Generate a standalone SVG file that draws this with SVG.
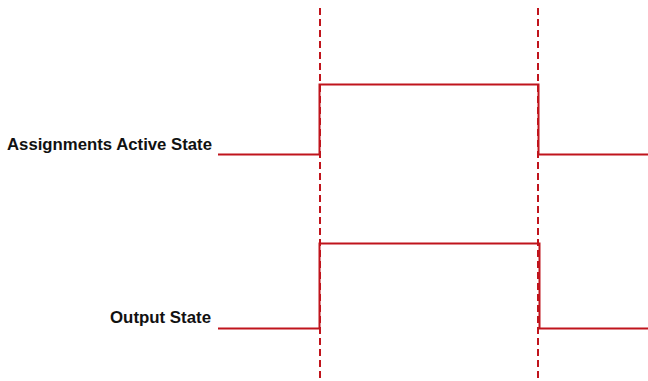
<svg xmlns="http://www.w3.org/2000/svg" width="648" height="381" viewBox="0 0 648 381">
<style>
.lbl{font-family:"Liberation Sans",Arial,sans-serif;font-weight:bold;font-size:16.5px;fill:#111;text-anchor:end}
.sig{fill:none;stroke:#c0141c;stroke-width:2}
.dash{fill:none;stroke:#c0141c;stroke-width:2;stroke-dasharray:7,4}
</style>
<rect width="648" height="381" fill="#fff"/>
<g id="label-assign"><text class="lbl" x="212" y="150" textLength="205" lengthAdjust="spacingAndGlyphs">Assignments Active State</text></g>
<g id="label-output"><text class="lbl" x="211" y="323" textLength="101" lengthAdjust="spacingAndGlyphs">Output State</text></g>
<g id="connectors">
<line class="dash" x1="320" y1="8" x2="320" y2="381"/>
<line class="dash" x1="538" y1="8" x2="538" y2="381"/>
<polyline id="sig-assign" class="sig" points="218,154.5 319.5,154.5 319.5,84.5 538.5,84.5 538.5,154.5 648,154.5"/>
<polyline id="sig-output" class="sig" points="218,328.5 319.5,328.5 319.5,243.5 539.5,243.5 539.5,328.5 648,328.5"/>
</g>
</svg>
